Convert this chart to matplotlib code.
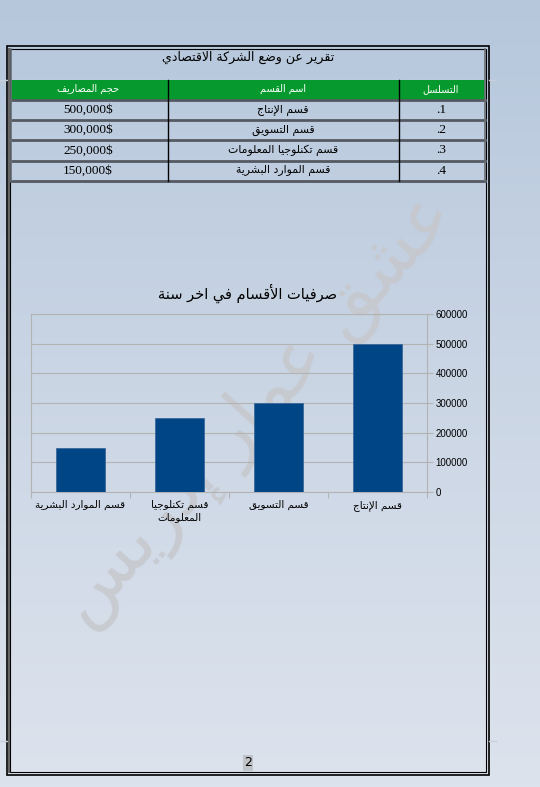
import numpy as np
import matplotlib
matplotlib.use('Agg')
import matplotlib.pyplot as plt
from matplotlib.colors import LinearSegmentedColormap
from matplotlib.patches import Rectangle

# data
report_title = 'تقرير عن وضع الشركة الاقتصادي'
headers = ['التسلسل', 'اسم القسم', 'حجم المصاريف']
categories = ['قسم الإنتاج', 'قسم التسويق', 'قسم تكنلوجيا المعلومات', 'قسم الموارد البشرية']
chart_labels = ['قسم الإنتاج', 'قسم التسويق', 'قسم تكنلوجيا\nالمعلومات', 'قسم الموارد البشرية']
expenses = [500000, 300000, 250000, 150000]
chart_title = 'صرفيات الأقسام في اخر سنة'
watermark = 'عشق عمار إدريس'
page_no = '2'

# simple arabic shaping (no bidi lib available)
FOUR = dict(zip('ئبتثجحخسشصضطظعغفقكلمنهي',
                [0xFE89, 0xFE8F, 0xFE95, 0xFE99, 0xFE9D, 0xFEA1, 0xFEA5, 0xFEB1, 0xFEB5,
                 0xFEB9, 0xFEBD, 0xFEC1, 0xFEC5, 0xFEC9, 0xFECD, 0xFED1, 0xFED5, 0xFED9,
                 0xFEDD, 0xFEE1, 0xFEE5, 0xFEE9, 0xFEF1]))
TWO = dict(zip('آأؤإاةدذرزوى',
               [0xFE81, 0xFE83, 0xFE85, 0xFE87, 0xFE8D, 0xFE93, 0xFEA9, 0xFEAB, 0xFEAD,
                0xFEAF, 0xFEED, 0xFEEF]))
LAMALEF = {'آ': 0xFEF5, 'أ': 0xFEF7, 'إ': 0xFEF9, 'ا': 0xFEFB}


def ar(text):
    lines = []
    for line in text.split('\n'):
        chars = []
        i = 0
        while i < len(line):
            c = line[i]
            if c == 'ل' and i + 1 < len(line) and line[i + 1] in LAMALEF:
                chars.append(('LA', LAMALEF[line[i + 1]]))
                i += 2
                continue
            chars.append((c, None))
            i += 1
        out = []
        for k, (c, lig) in enumerate(chars):
            prev = chars[k - 1][0] if k > 0 else None
            nxt = chars[k + 1][0] if k + 1 < len(chars) else None
            jp = prev in FOUR
            if lig:
                out.append(chr(lig + (1 if jp else 0)))
                continue
            if c in FOUR:
                jn = nxt in FOUR or nxt in TWO or nxt == 'LA'
                b = FOUR[c]
                if jp and jn:
                    out.append(chr(b + 3))
                elif jp:
                    out.append(chr(b + 1))
                elif jn:
                    out.append(chr(b + 2))
                else:
                    out.append(chr(b))
            elif c in TWO:
                out.append(chr(TWO[c] + (1 if jp else 0)))
            else:
                out.append(c)
        lines.append(''.join(reversed(out)))
    return '\n'.join(lines)


W, H = 540, 787
fig = plt.figure(figsize=(W / 100, H / 100), dpi=100)

bg = fig.add_axes([0, 0, 1, 1])
bg.set_xlim(0, W)
bg.set_ylim(H, 0)
bg.axis('off')
cmap = LinearSegmentedColormap.from_list('bg', ['#b6c7dc', '#cbd6e5', '#dde3ed'])
bg.imshow(np.linspace(0, 1, 256).reshape(-1, 1), cmap=cmap, extent=[0, W, H, 0], aspect='auto')

# word page margin lines (only visible outside the page)
for y in [80, 741]:
    bg.plot([0, 7], [y, y], color='#c9d0db', lw=1)
    bg.plot([489, 496], [y, y], color='#c9d0db', lw=1)

# page double border
bg.add_patch(Rectangle((7, 46), 482, 729, fill=False, ec='black', lw=1.2))
bg.add_patch(Rectangle((10, 49), 476, 723, fill=False, ec='black', lw=0.8))
bg.plot([9, 9], [49, 772], color='#666666', lw=1.5)

# watermark
bg.text(258, 410, ar(watermark), rotation=48, fontsize=52, color='#c6c8cc', alpha=0.85,
        ha='center', va='center', family='DejaVu Sans')

# table
bg.text(248, 57, ar(report_title), ha='center', va='center', fontsize=9, family='DejaVu Sans')
bg.add_patch(Rectangle((11, 80), 474, 20, color='#069a2e', lw=0))
col_x = [441, 283, 88]
for x, h in zip(col_x, headers):
    bg.text(x, 89, ar(h), ha='center', va='center', fontsize=7, color='white', family='DejaVu Sans')
row_h = 20.2
for i, (name, val) in enumerate(zip(categories, expenses)):
    yc = 110 + i * row_h
    bg.text(441, yc, '.%d' % (i + 1), ha='center', va='center', fontsize=9.5, family='Liberation Serif')
    bg.text(283, yc, ar(name), ha='center', va='center', fontsize=7.8, family='DejaVu Sans')
    bg.text(88, yc, f'{val:,}$', ha='center', va='center', fontsize=9.5, family='Liberation Serif')
for i in range(5):
    y = 100 + i * row_h
    bg.plot([11, 485], [y, y], color='#555a62', lw=2)
for x in [168, 399]:
    bg.plot([x, x], [80, 181], color='black', lw=1)
for x in [11, 485]:
    bg.plot([x, x], [49, 181], color='#6b6f75', lw=1.2)

# page number
bg.text(248, 763, page_no, ha='center', va='center', fontsize=9, family='DejaVu Sans',
        bbox=dict(boxstyle='square,pad=0.1', fc='#c0c3c8', ec='none'))

# chart
ax = fig.add_axes([31 / W, 1 - 492 / H, (427 - 31) / W, (492 - 314) / H])
ax.set_facecolor('none')
x = np.arange(len(expenses))
ax.bar(x, expenses, width=0.5, color='#004586', edgecolor='#3d6a9a', lw=0.6, zorder=3)
ax.set_xlim(-0.5, len(expenses) - 0.5)
ax.invert_xaxis()
ax.set_ylim(0, 600000)
ax.set_yticks(np.arange(0, 600001, 100000))
ax.yaxis.tick_right()
ax.tick_params(axis='y', labelsize=7, colors='#b3b3b3', labelcolor='black', length=4, width=0.8, pad=2)
ax.grid(axis='y', color='#b3b3b3', lw=0.8, zorder=0)
ax.set_xticks(np.arange(-0.5, len(expenses)))
ax.set_xticklabels([])
ax.tick_params(axis='x', which='major', length=4, colors='#b3b3b3', width=0.8)
ax.set_xticks(x, minor=True)
ax.set_xticklabels([ar(c) for c in chart_labels], minor=True, fontsize=7.5, family='DejaVu Sans')
ax.tick_params(axis='x', which='minor', length=0, pad=6)
for s in ax.spines.values():
    s.set_color('#b3b3b3')
    s.set_linewidth(0.8)
for lab in ax.get_yticklabels():
    lab.set_family('Liberation Sans')

bg.text(247, 293, ar(chart_title), ha='center', va='center', fontsize=10.5,
        family='DejaVu Sans')

fig.savefig('out.png', dpi=100)
